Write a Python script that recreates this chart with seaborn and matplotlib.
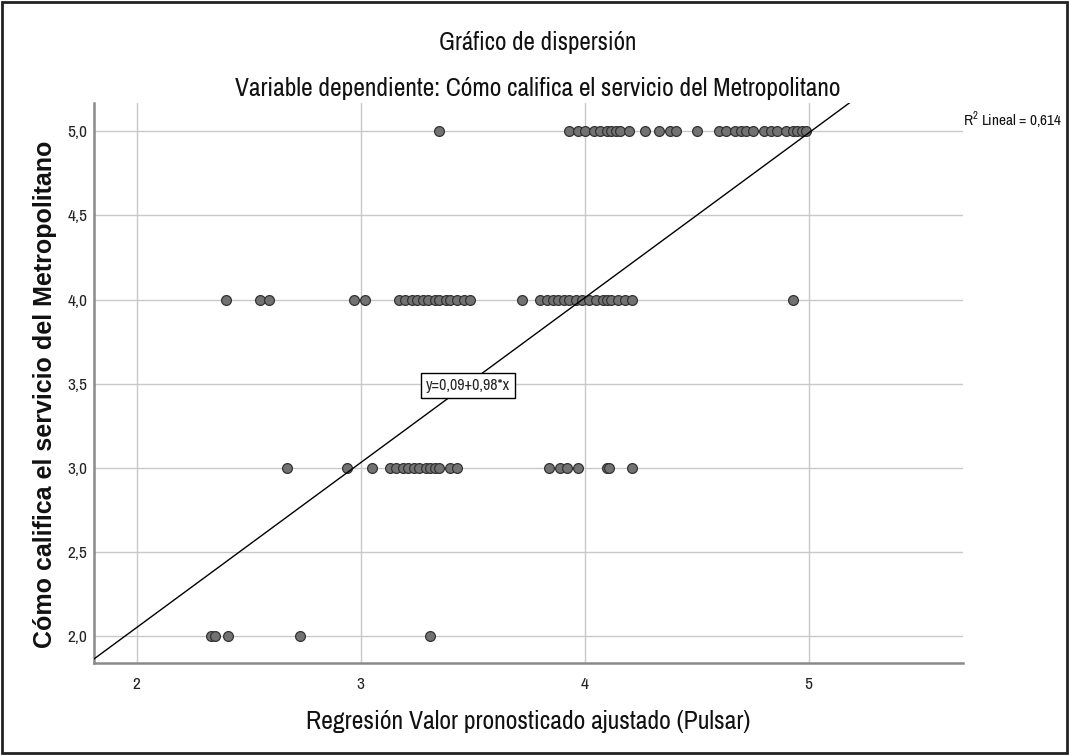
import matplotlib
matplotlib.use("Agg")
import matplotlib.pyplot as plt
from matplotlib.ticker import FuncFormatter, FixedLocator
from matplotlib.patches import Rectangle
import seaborn as sns
import pandas as pd

# ---- data ----
x_row5 = [3.35, 3.93, 3.97, 4.00, 4.04, 4.07, 4.10, 4.12, 4.14, 4.16, 4.20, 4.27,
          4.33, 4.38, 4.41, 4.50, 4.60, 4.63, 4.67, 4.70, 4.72, 4.75, 4.80, 4.83,
          4.86, 4.90, 4.93, 4.95, 4.97, 4.99]
x_row4 = [2.40, 2.55, 2.59, 2.97, 3.02, 3.17, 3.20, 3.23, 3.25, 3.28, 3.30, 3.33,
          3.35, 3.38, 3.40, 3.43, 3.46, 3.49, 3.72, 3.80, 3.83, 3.86, 3.88, 3.91,
          3.93, 3.96, 3.99, 4.02, 4.05, 4.08, 4.10, 4.12, 4.15, 4.18, 4.21, 4.93]
x_row3 = [2.67, 2.94, 3.05, 3.13, 3.16, 3.19, 3.21, 3.24, 3.26, 3.29, 3.31, 3.33,
          3.35, 3.40, 3.43, 3.84, 3.89, 3.92, 3.97, 4.10, 4.11, 4.21]
x_row2 = [2.33, 2.35, 2.41, 2.73, 3.31]
y_levels = [5.0, 4.0, 3.0, 2.0]

intercept = 0.09
slope = 0.98
r2_text = "R$^2$ Lineal = 0,614"
eq_text = "y=0,09+0,98*x"

x_ticks = [2, 3, 4, 5]
y_ticks = [2.0, 2.5, 3.0, 3.5, 4.0, 4.5, 5.0]

title1 = "Gráfico de dispersión"
title2 = "Variable dependiente: Cómo califica el servicio del Metropolitano"
xlabel = "Regresión Valor pronosticado ajustado (Pulsar)"
ylabel = "Cómo califica el servicio del Metropolitano"

rows = []
for xs, yv in zip([x_row5, x_row4, x_row3, x_row2], y_levels):
    for xv in xs:
        rows.append((xv, yv))
df = pd.DataFrame(rows, columns=["pred", "score"])

# ---- figure ----
sns.set_style("white")
narrow = ["Archivo Narrow", "Liberation Sans", "DejaVu Sans"]
wide = ["Liberation Sans", "DejaVu Sans"]
plt.rcParams["font.family"] = narrow
plt.rcParams["mathtext.fontset"] = "custom"
plt.rcParams["mathtext.rm"] = "Archivo Narrow"

fig = plt.figure(figsize=(10.69, 7.55), dpi=100)
ax = fig.add_axes([0.088, 0.122, 0.813, 0.742])

ax.set_xlim(1.81, 5.69)
ax.set_ylim(1.84, 5.17)

ax.xaxis.set_major_locator(FixedLocator(x_ticks))
ax.yaxis.set_major_locator(FixedLocator(y_ticks))
ax.grid(True, color="#c8c8c8", linewidth=1.0)
ax.set_axisbelow(True)

sns.scatterplot(data=df, x="pred", y="score", ax=ax, s=50,
                color="#727272", edgecolor="#333333", linewidth=0.9,
                zorder=3, legend=False)

ax.axline((0, intercept), slope=slope, color="black", linewidth=1.0, zorder=4)

for side in ["top", "right"]:
    ax.spines[side].set_visible(False)
for side in ["left", "bottom"]:
    ax.spines[side].set_color("#8a8a8a")
    ax.spines[side].set_linewidth(1.8)

ax.yaxis.set_major_formatter(FuncFormatter(lambda v, p: f"{v:.1f}".replace(".", ",")))
ax.xaxis.set_major_formatter(FuncFormatter(lambda v, p: f"{v:.0f}"))
ax.tick_params(axis="both", length=0, labelsize=12.5, colors="#222222")
ax.tick_params(axis="y", pad=5)
ax.tick_params(axis="x", pad=10)

ax.set_xlabel(xlabel, fontsize=18.5, color="#111111")
ax.xaxis.set_label_coords(0.5, -0.105)
ax.xaxis.label.set_verticalalignment("center")

ax.set_ylabel(ylabel, fontsize=18, fontweight="bold", family=wide, color="#111111")
ax.yaxis.set_label_coords(-0.057, 0.479)
ax.yaxis.label.set_verticalalignment("center")

fig.text(538 / 1069, 1 - 43 / 755, title1, ha="center", va="center", fontsize=18, color="#111111")
fig.text(538 / 1069, 1 - 88 / 755, title2, ha="center", va="center", fontsize=18.3, color="#111111")
fig.text(1 - 7 / 1069, 1 - 120 / 755, r2_text, ha="right", va="center",
         fontsize=11, color="#111111")

ax.text(3.48, 3.49, eq_text, ha="center", va="center", fontsize=11.5, zorder=5,
        bbox=dict(boxstyle="square,pad=0.3", facecolor="white", edgecolor="black",
                  linewidth=1.0))

fig.patches.append(Rectangle((0.002, 0.002), 0.996, 0.996, transform=fig.transFigure,
                             fill=False, edgecolor="#222222", linewidth=2.0))

fig.savefig("out.png", dpi=100, facecolor="white")
